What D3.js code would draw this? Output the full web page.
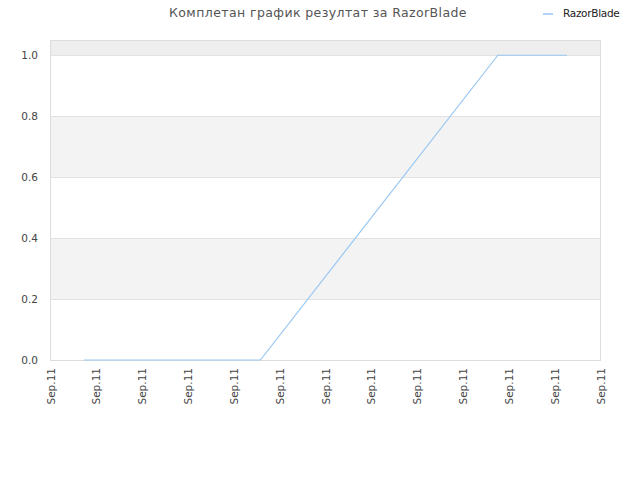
<!DOCTYPE html>
<html><head><meta charset="utf-8">
<script src="https://cdn.jsdelivr.net/npm/d3@7"></script>
<style>body{margin:0;background:#fff;font-family:"DejaVu Sans",sans-serif;}</style>
</head><body><svg id="c" width="640" height="480"></svg>
<script>
const xTickLabels = ["Sep.11","Sep.11","Sep.11","Sep.11","Sep.11","Sep.11","Sep.11","Sep.11","Sep.11","Sep.11","Sep.11","Sep.11","Sep.11"];
const xPositions = [0.73, 4.58, 9.76, 11.27];
const yValues = [0, 0, 1, 1];
const yTicks = [0, 0.2, 0.4, 0.6, 0.8, 1.0];
const seriesName = "RazorBlade";
const title = "Комплетан график резултат за RazorBlade";

const svg = d3.select("#c");
const L = 50.5, R = 600.5, T = 40, B = 360;
const x = d3.scaleLinear().domain([0, 12]).range([L, R]);
const y = d3.scaleLinear().domain([0, 1.05]).range([B, T]);

// bands
const bands = [[0.2,0.4,"#f3f3f3"],[0.6,0.8,"#f3f3f3"],[1.0,1.05,"#eeeeee"]];
svg.selectAll("rect.band").data(bands).enter().append("rect")
  .attr("x", L).attr("width", R - L)
  .attr("y", d => y(d[1])).attr("height", d => y(d[0]) - y(d[1]))
  .attr("fill", d => d[2]);
// grid
svg.selectAll("line.grid").data(yTicks.slice(1)).enter().append("line")
  .attr("x1", L).attr("x2", R)
  .attr("y1", d => Math.round(y(d)) + 0.5).attr("y2", d => Math.round(y(d)) + 0.5)
  .attr("stroke", "#e2e2e2");
// frame
svg.append("rect").attr("x", L).attr("y", T + 0.5).attr("width", R - L).attr("height", B - T)
  .attr("fill", "none").attr("stroke", "#dddddd");

// y labels
svg.selectAll("text.yl").data(yTicks).enter().append("text")
  .attr("x", 38).attr("y", d => y(d) + 4)
  .attr("text-anchor", "end").attr("font-size", 10.5).attr("fill", "#444")
  .text(d => d.toFixed(1));

// x labels
svg.selectAll("text.xl").data(xTickLabels).enter().append("text")
  .attr("transform", (d, i) => `translate(${x(i) + 4},${368}) rotate(-90)`)
  .attr("text-anchor", "end").attr("font-size", 10.5).attr("fill", "#444")
  .text(d => d);

// line
const pts = xPositions.map((v, i) => [v, yValues[i]]);
svg.append("path").datum(pts)
  .attr("d", d3.line().x(d => x(d[0])).y(d => y(d[1])))
  .attr("fill", "none").attr("stroke", "#99c7f2").attr("stroke-width", 1.2);

// title
svg.append("text").attr("x", 318).attr("y", 17).attr("text-anchor", "middle")
  .attr("font-size", 12.5).attr("fill", "#555").attr("letter-spacing", 0.4).text(title);

// legend
svg.append("line").attr("x1", 543).attr("x2", 553).attr("y1", 14).attr("y2", 14)
  .attr("stroke", "#99c7f2").attr("stroke-width", 1.5);
svg.append("text").attr("x", 563).attr("y", 17).attr("font-size", 10.5).attr("fill", "#222")
  .attr("letter-spacing", -0.3).text(seriesName);
</script></body></html>
